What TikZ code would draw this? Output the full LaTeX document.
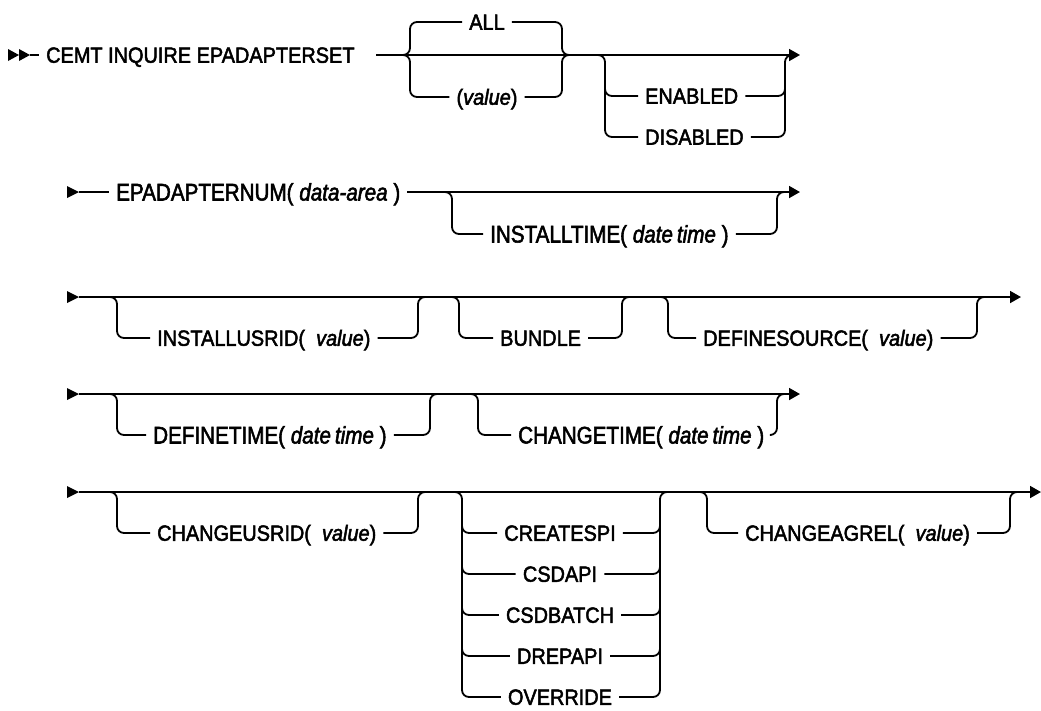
\documentclass[tikz,border=0pt]{standalone}
\usepackage{fontspec}
\setmainfont{Liberation Sans}[FakeStretch=0.905,FakeBold=2.2]
\newfontfamily\condf{Liberation Sans}[FakeStretch=0.86,FakeBold=2.2]
\usetikzlibrary{arrows.meta}
\tikzset{
  rail/.style={line width=1.8pt, rounded corners=7pt},
  lbl/.style={anchor=west, inner xsep=7pt, inner ysep=0pt, text height=15.5pt, text depth=0pt, font=\fontsize{22}{25}\selectfont},
  clbl/.style={lbl, anchor=center},
  cond/.style={lbl, font=\condf\fontsize{24}{27}\selectfont, text height=17pt},
  endtip/.style={-{Triangle[length=11pt,width=12pt]}},
}
% optional branch below the main line: #1 left x, #2 right x, #3 main y, #4 sub y, #5 node
\newcommand\optbranch[5]{%
  \draw[rail] (#1-10,#3) -- (#1,#3) -- (#1,#4) -- (#5.west);
  \draw[rail] (#5.east) -- (#2,#4) -- (#2,#3) -- (#2+10,#3);
}
% extra branch joining an existing vertical: #1 left x, #2 right x, #3 sub y, #4 node
\newcommand\midbranch[4]{%
  \draw[rail] (#1,#3-12) -- (#1,#3) -- (#4.west);
  \draw[rail] (#4.east) -- (#2,#3) -- (#2,#3-12);
}
\newcommand\starttip[1]{\fill (67,#1-6) -- (79,#1) -- (67,#1+6) -- cycle;}
\begin{document}
\begin{tikzpicture}[x=1pt,y=-1pt]
\useasboundingbox (0,0) rectangle (1041,710);
% ---------- row 1 ----------
\fill (8,49) -- (19,55) -- (8,61) -- cycle;
\fill (19,49) -- (30,55) -- (19,61) -- cycle;
\coordinate (s1) at (30,55);
\node[lbl] (cemt) at (39,55) {CEMT INQUIRE EPADAPTERSET};
\draw[rail] (s1) -- (cemt.west);
\coordinate (r1a) at (376,55);
\coordinate (r1b) at (800,55);
\draw[rail,endtip] (r1a) -- (r1b);
\node[clbl] (all) at (487,22) {ALL};
\node[clbl] (val) at (487,97) {(\textit{value})};
\draw[rail] (400,55) -- (410,55) -- (410,22) -- (all.west);
\draw[rail] (all.east) -- (562,22) -- (562,55) -- (572,55);
\optbranch{410}{562}{55}{97}{val}
\node[lbl] (en) at (638,96) {ENABLED};
\node[lbl] (dis) at (638,137) {DISABLED};
\optbranch{605}{785}{55}{137}{dis}
\midbranch{605}{785}{96}{en}
% ---------- row 2 ----------
\starttip{192}
\coordinate (s2) at (79,192);
\node[cond] (epn) at (109,192) {EPADAPTERNUM(\ \textit{data-area}\ )};
\draw[rail] (s2) -- (epn.west);
\coordinate (r2b) at (800,192);
\draw[rail,endtip] (epn.east) -- (r2b);
\node[cond] (it) at (483,234) {INSTALLTIME(\ \textit{date\hspace{4pt}time}\ )};
\optbranch{452}{777}{192}{234}{it}
% ---------- row 3 ----------
\starttip{297}
\coordinate (s3) at (79,297);
\coordinate (r3b) at (1021,297);
\draw[rail,endtip] (s3) -- (r3b);
\node[lbl] (iu) at (150,338) {INSTALLUSRID(\ \ \textit{value})};
\optbranch{117}{418}{297}{338}{iu}
\node[lbl] (bu) at (493,338) {BUNDLE};
\optbranch{459}{622}{297}{338}{bu}
\node[lbl] (ds) at (696,338) {DEFINESOURCE(\ \ \textit{value})};
\optbranch{668}{977}{297}{338}{ds}
% ---------- row 4 ----------
\starttip{394}
\coordinate (s4) at (79,394);
\coordinate (r4b) at (800,394);
\draw[rail,endtip] (s4) -- (r4b);
\node[cond] (dt) at (146,435) {DEFINETIME(\ \textit{date\hspace{4pt}time}\ )};
\optbranch{117}{430}{394}{435}{dt}
\node[cond] (ct) at (511,435) {CHANGETIME(\ \textit{date\hspace{4pt}time}\ )};
\optbranch{478}{777}{394}{435}{ct}
% ---------- row 5 ----------
\starttip{492}
\coordinate (s5) at (79,492);
\coordinate (r5b) at (1041,492);
\draw[rail,endtip] (s5) -- (r5b);
\node[lbl] (cu) at (150,533) {CHANGEUSRID(\ \ \textit{value})};
\optbranch{117}{418}{492}{533}{cu}
\node[clbl] (o1) at (560,533) {CREATESPI};
\node[clbl] (o2) at (560,574) {CSDAPI};
\node[clbl] (o3) at (560,615) {CSDBATCH};
\node[clbl] (o4) at (560,656) {DREPAPI};
\node[clbl] (o5) at (560,697) {OVERRIDE};
\optbranch{462}{660}{492}{697}{o5}
\midbranch{462}{660}{533}{o1}
\midbranch{462}{660}{574}{o2}
\midbranch{462}{660}{615}{o3}
\midbranch{462}{660}{656}{o4}
\node[lbl] (ca) at (738,533) {CHANGEAGREL(\ \ \textit{value})};
\optbranch{707}{1010}{492}{533}{ca}
\end{tikzpicture}
\end{document}
